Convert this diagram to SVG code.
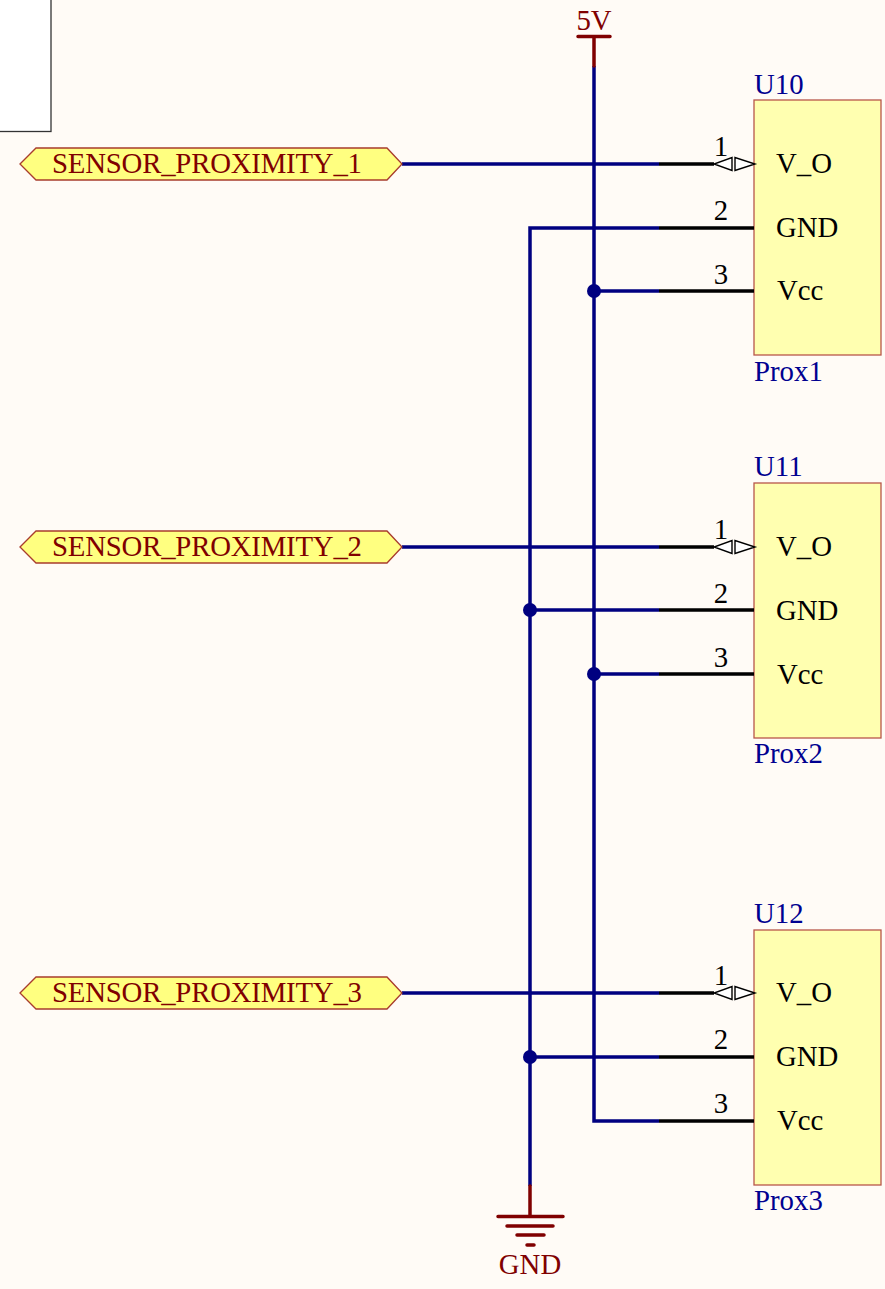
<svg xmlns="http://www.w3.org/2000/svg" width="885" height="1289" viewBox="0 0 885 1289">
<style>
text{font-family:"Liberation Serif","Times New Roman",serif;font-size:28.800px}
.w{fill:none;stroke:#000080;stroke-width:3.500;stroke-linecap:butt}
.p{fill:none;stroke:#000;stroke-width:3.500}
.r{fill:none;stroke:#800000;stroke-width:3.500;stroke-linecap:round}
.body{fill:#ffffb0;stroke:#b8564a;stroke-width:1.300}
.port{fill:#ffff80;stroke:#a83c2c;stroke-width:1.300}
.pt{fill:#800000}
.des{fill:#000090}
.pn{fill:#000}
.tri{fill:#fff;stroke:#000;stroke-width:1.400}
.j{fill:#000080}
</style>
<rect width="885" height="1289" fill="#fffbf6"/>
<rect id="sheet" x="-10" y="-10" width="61" height="141.500" fill="#fff" stroke="#333" stroke-width="1.300"/>
<g id="connectors">
<path class="w" d="M594 66V1121H659M530 1186V228H659M402 164H659M402 547H659M402 993H659M594 291H659M594 674H659M530 610H659M530 1057H659"/>
<circle class="j" cx="594" cy="291" r="7"/>
<circle class="j" cx="594" cy="674" r="7"/>
<circle class="j" cx="530" cy="610" r="7"/>
<circle class="j" cx="530" cy="1057" r="7"/>
</g>
<g id="pwr-5v">
<path class="r" d="M594 66V37M578 36.500H610"/>
<text class="pt" x="594" y="30" text-anchor="middle">5V</text>
</g>
<g id="pwr-gnd">
<path class="r" d="M530 1186V1216M498 1216.500H563M507 1226H553M517 1235H544M527 1245H534"/>
<text class="pt" x="530" y="1274" text-anchor="middle">GND</text>
</g>
<g id="port-1">
<polygon class="port" points="20,164 36,148 387,148 402,164 387,180 36,180"/>
<text class="pt" x="52" y="173" textLength="310">SENSOR_PROXIMITY_1</text>
</g>
<g id="port-2">
<polygon class="port" points="20,547 36,531 387,531 402,547 387,563 36,563"/>
<text class="pt" x="52" y="556" textLength="310">SENSOR_PROXIMITY_2</text>
</g>
<g id="port-3">
<polygon class="port" points="20,993 36,977 387,977 402,993 387,1009 36,1009"/>
<text class="pt" x="52" y="1002" textLength="310">SENSOR_PROXIMITY_3</text>
</g>
<g id="U10">
<rect class="body" x="754" y="100" width="127" height="255"/>
<path class="p" d="M659 164H714M659 228H754M659 291H754"/>
<path class="tri" d="M732 157.500V170.500L714 164ZM735 157.500V170.500L755 164Z"/>
<text class="pn" x="721" y="156" text-anchor="middle">1</text>
<text class="pn" x="721" y="220" text-anchor="middle">2</text>
<text class="pn" x="721" y="284" text-anchor="middle">3</text>
<text class="pn" x="776" y="173">V_O</text>
<text class="pn" x="776" y="237">GND</text>
<text class="pn" x="777" y="300">Vcc</text>
<text class="des" x="754" y="94">U10</text>
<text class="des" x="754" y="381">Prox1</text>
</g>
<g id="U11">
<rect class="body" x="754" y="483" width="127" height="255"/>
<path class="p" d="M659 547H714M659 610H754M659 674H754"/>
<path class="tri" d="M732 540.500V553.500L714 547ZM735 540.500V553.500L755 547Z"/>
<text class="pn" x="721" y="539" text-anchor="middle">1</text>
<text class="pn" x="721" y="603" text-anchor="middle">2</text>
<text class="pn" x="721" y="667" text-anchor="middle">3</text>
<text class="pn" x="776" y="556">V_O</text>
<text class="pn" x="776" y="620">GND</text>
<text class="pn" x="777" y="684">Vcc</text>
<text class="des" x="754" y="476">U11</text>
<text class="des" x="754" y="763">Prox2</text>
</g>
<g id="U12">
<rect class="body" x="754" y="930" width="127" height="255"/>
<path class="p" d="M659 993H714M659 1057H754M659 1121H754"/>
<path class="tri" d="M732 986.500V999.500L714 993ZM735 986.500V999.500L755 993Z"/>
<text class="pn" x="721" y="985" text-anchor="middle">1</text>
<text class="pn" x="721" y="1049" text-anchor="middle">2</text>
<text class="pn" x="721" y="1113" text-anchor="middle">3</text>
<text class="pn" x="776" y="1002">V_O</text>
<text class="pn" x="776" y="1066">GND</text>
<text class="pn" x="777" y="1130">Vcc</text>
<text class="des" x="754" y="923">U12</text>
<text class="des" x="754" y="1210">Prox3</text>
</g>
</svg>
